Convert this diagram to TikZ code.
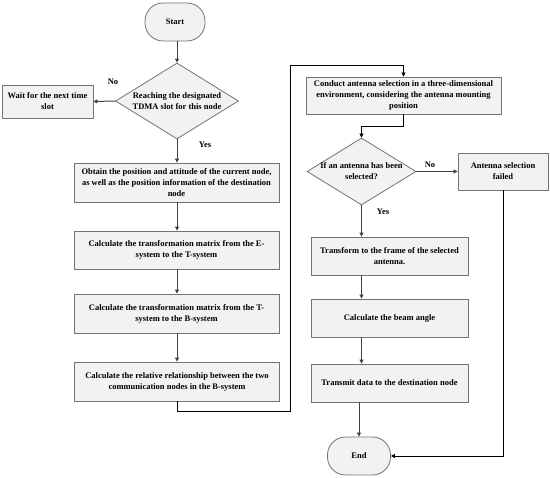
\documentclass[tikz,border=0pt]{standalone}
\usepackage{fontspec}
\setmainfont{Liberation Serif}
\usetikzlibrary{shapes.geometric,arrows.meta,calc}
\begin{document}
\begin{tikzpicture}[x=1pt,y=-1pt,
  font=\fontsize{8.5}{11}\selectfont\bfseries,
  box/.style={draw=black!55,fill=black!5,line width=0.8pt,align=center,inner sep=1pt},
  term/.style={box,rounded corners=18pt},
  dia/.style={draw=black!55,fill=black!5,line width=0.8pt,shape=diamond,inner sep=0pt},
  flow/.style={draw=black!75,line width=1pt,-{Triangle[length=4pt,width=4pt]}},
  lab/.style={inner sep=0pt}]
\useasboundingbox (0,0) rectangle (550,478);
\node[term,minimum width=60pt,minimum height=38pt] (start) at (175,22) {Start};
\node[dia,minimum width=123pt,minimum height=76pt,
  label={[align=center,lab]center:Reaching the designated\\TDMA slot for this node}] (d1) at (177,101) {};
\node[box,minimum width=91pt,minimum height=33pt] (wait) at (47.5,101.5) {Wait for the next time\\slot};
\node[box,minimum width=205pt,minimum height=39pt] (obtain) at (176.5,182.5) {Obtain the position and attitude of the current node,\\as well as the position information of the destination\\node};
\node[box,minimum width=205pt,minimum height=38pt] (calcE) at (176.5,250) {Calculate the transformation matrix from the E-\\system to the T-system};
\node[box,minimum width=205pt,minimum height=39pt] (calcT) at (176.5,313.5) {Calculate the transformation matrix from the T-\\system to the B-system};
\node[box,minimum width=205pt,minimum height=39pt] (rel) at (177,381.5) {Calculate the relative relationship between the two\\communication nodes in the B-system};
\node[box,minimum width=195pt,minimum height=37pt] (conduct) at (403.5,95.5) {Conduct antenna selection in a three-dimensional\\environment, considering the antenna mounting\\position};
\node[dia,minimum width=109pt,minimum height=67pt,
  label={[align=center,lab]center:If an antenna has been\\selected?}] (d2) at (361.5,171.5) {};
\node[box,minimum width=90pt,minimum height=37pt] (failed) at (503,171.5) {Antenna selection\\failed};
\node[box,minimum width=157pt,minimum height=38pt] (transform) at (389.5,256) {Transform to the frame of the selected\\antenna.};
\node[box,minimum width=157pt,minimum height=38pt] (beam) at (389.5,318) {Calculate the beam angle};
\node[box,minimum width=157pt,minimum height=38pt] (transmit) at (389.5,383) {Transmit data to the destination node};
\node[term,minimum width=63pt,minimum height=38pt] (end) at (359,456) {End};
\coordinate (turn) at (290,65);
\node[lab] (no1) at (113,82) {No};
\node[lab] (yes1) at (205,145) {Yes};
\node[lab] (no2) at (430,165) {No};
\node[lab] (yes2) at (383,212) {Yes};
% connectors
\draw[flow] (d1.north |- start.south) -- (d1.north);
\draw[flow] (d1.west) -- (wait.east);
\draw[flow] (d1.south) -- (d1.south |- obtain.north);
\draw[flow] (obtain.south -| d1.south) -- (calcE.north -| d1.south);
\draw[flow] (calcE.south -| d1.south) -- (calcT.north -| d1.south);
\draw[flow] (calcT.south -| d1.south) -- (rel.north -| d1.south);
\draw[flow,draw=black,line width=0.7pt] (rel.south) -- ++(0,10) -| (turn) -| (conduct.north);
\draw[flow,draw=black,line width=0.7pt] (conduct.south) -- ++(0,12) -| (d2.north);
\draw[flow] (d2.east) -- (failed.west);
\draw[flow] (d2.south) -- (d2.south |- transform.north);
\draw[flow] (d2.south |- transform.south) -- (d2.south |- beam.north);
\draw[flow] (d2.south |- beam.south) -- (d2.south |- transmit.north);
\draw[flow] (end.north |- transmit.south) -- (end.north);
\draw[flow,draw=black,line width=0.7pt] (failed.south) |- (end.east);
\end{tikzpicture}
\end{document}
